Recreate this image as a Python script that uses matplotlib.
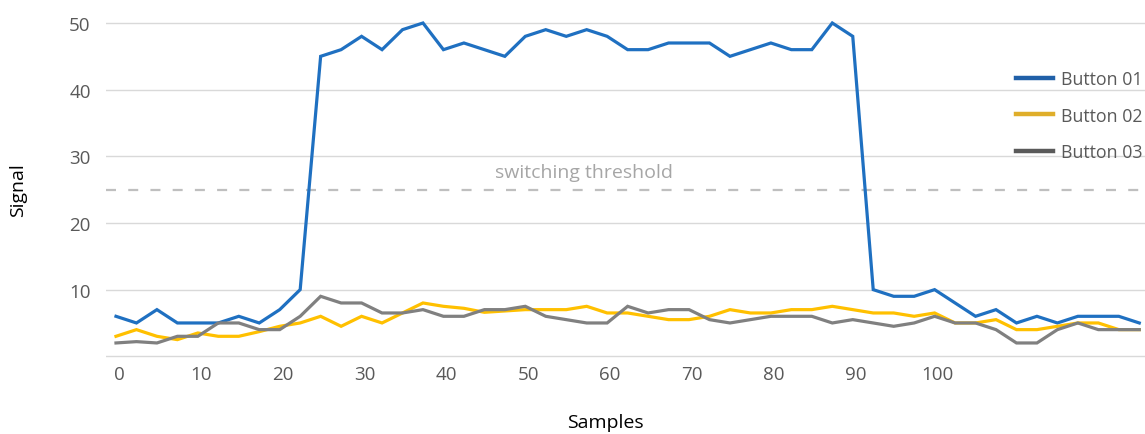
import matplotlib.pyplot as plt
from matplotlib.lines import Line2D
from matplotlib.transforms import ScaledTranslation

#   Sample positions (one reading every 2.5 samples)
samples = [0, 2.5, 5, 7.5, 10, 12.5, 15, 17.5, 20, 22.5,
           25, 27.5, 30, 32.5, 35, 37.5, 40, 42.5, 45, 47.5,
           50, 52.5, 55, 57.5, 60, 62.5, 65, 67.5, 70, 72.5,
           75, 77.5, 80, 82.5, 85, 87.5, 90, 92.5, 95, 97.5,
           100, 102.5, 105, 107.5, 110, 112.5, 115, 117.5, 120, 122.5,
           125]

button_01 = [6, 5, 7, 5, 5, 5, 6, 5, 7, 10,
             45, 46, 48, 46, 49, 50, 46, 47, 46, 45,
             48, 49, 48, 49, 48, 46, 46, 47, 47, 47,
             45, 46, 47, 46, 46, 50, 48, 10, 9, 9,
             10, 8, 6, 7, 5, 6, 5, 6, 6, 6,
             5]
button_02 = [3, 4, 3, 2.5, 3.5, 3, 3, 3.7, 4.5, 5,
             6, 4.5, 6, 5, 6.5, 8, 7.5, 7.2, 6.6, 6.8,
             7, 7, 7, 7.5, 6.5, 6.5, 6, 5.5, 5.5, 6,
             7, 6.5, 6.5, 7, 7, 7.5, 7, 6.5, 6.5, 6,
             6.5, 5, 5, 5.5, 4, 4, 4.5, 5, 5, 4,
             4]
button_03 = [2, 2.2, 2, 3, 3, 5, 5, 4, 4, 6,
             9, 8, 8, 6.5, 6.5, 7, 6, 6, 7, 7,
             7.5, 6, 5.5, 5, 5, 7.5, 6.5, 7, 7, 5.5,
             5, 5.5, 6, 6, 6, 5, 5.5, 5, 4.5, 5,
             6, 5, 5, 4, 2, 2, 4, 5, 4, 4,
             4]

labels = ["Button 01", "Button 02", "Button 03"]
threshold = 25
x_ticks = [0, 10, 20, 30, 40, 50, 60, 70, 80, 90, 100]
y_ticks = [0, 10, 20, 30, 40, 50]

line_colors = ["#1f70c1", "#ffc000", "#808080"]
legend_colors = ["#2060a8", "#dfae2a", "#5a5a5a"]
tick_color = "#595959"
font = ["Open Sans", "DejaVu Sans"]

W, H = 1145, 435
fig = plt.figure(figsize=(W / 100, H / 100), dpi=100)

#   Axes placed in pixel terms, slightly padded so the 0 and 50 gridlines are whole
top_px, bottom_px, left_px = 22, 359.3, 106
ax = fig.add_axes([left_px / W, (H - bottom_px) / H, (W - left_px) / W, (bottom_px - top_px) / H])
ax.set_ylim(-0.3, 50.3)
ax.set_xlim(-1.22, 125.7)

for series, color in zip([button_01, button_02, button_03], line_colors):
    ax.plot(samples, series, color=color, lw=2.3, solid_joinstyle="miter", zorder=3)

ax.axhline(threshold, color="#bfbfbf", lw=1.6, dashes=(4.5, 5.5), zorder=2)
ax.text(57.2, threshold + 2.7, "switching threshold", color="#a6a6a6",
        fontsize=14, family=font, ha="center", va="center")

ax.set_yticks(y_ticks)
ax.set_yticklabels([""] + [str(v) for v in y_ticks[1:]])
ax.set_xticks(x_ticks)
ax.grid(axis="y", color="#d9d9d9", lw=1.0, zorder=0)
ax.tick_params(length=0, colors=tick_color, labelsize=13.5)
ax.tick_params(axis="y", pad=11)
ax.tick_params(axis="x", pad=5)
shift = ScaledTranslation(3 / 100, 0, fig.dpi_scale_trans)
for lbl in ax.get_xticklabels():
    lbl.set_transform(lbl.get_transform() + shift)
for lbl in ax.get_xticklabels() + ax.get_yticklabels():
    lbl.set_family(font)
for side in ax.spines.values():
    side.set_visible(False)

fig.text(18 / W, 1 - 190 / H, "Signal", rotation=90, fontsize=14, family=font,
         ha="center", va="center", color="black")
fig.text(605 / W, 1 - 423 / H, "Samples", fontsize=14, family=font,
         ha="center", va="center", color="black")

handles = [Line2D([], [], color=c, lw=3.2) for c in legend_colors]
leg = ax.legend(handles, labels, loc="upper left", bbox_to_anchor=(1016 / W, 1 - 71 / H),
                bbox_transform=fig.transFigure, frameon=False, borderpad=0, borderaxespad=0,
                handlelength=2.1, handletextpad=0.45, labelspacing=1.05,
                prop={"family": font, "size": 12.8})
for t in leg.get_texts():
    t.set_color(tick_color)

fig.savefig("out.png", dpi=100)
